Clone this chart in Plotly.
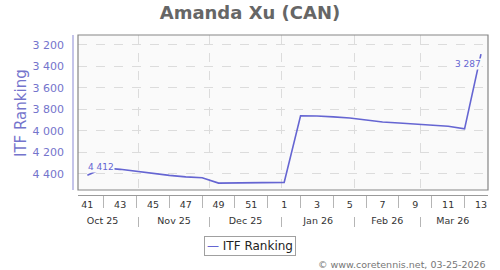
import plotly.graph_objects as go

# ---- data ----
dates = ["2025-10-10", "2025-10-17", "2025-10-24", "2025-10-31", "2025-11-07",
         "2025-11-14", "2025-11-21", "2025-11-28", "2025-12-05", "2025-12-12",
         "2025-12-19", "2025-12-26", "2026-01-02", "2026-01-09", "2026-01-16",
         "2026-01-23", "2026-01-30", "2026-02-06", "2026-02-13", "2026-02-20",
         "2026-02-27", "2026-03-06", "2026-03-13", "2026-03-20", "2026-03-27"]
weeks = [41, 42, 43, 44, 45, 46, 47, 48, 49, 50, 51, 52,
         1, 2, 3, 4, 5, 6, 7, 8, 9, 10, 11, 12, 13]
ranking = [4412, 4345, 4358, 4378, 4392, 4414, 4428, 4436, 4486, 4483, 4481, 4480,
           4479, 3860, 3862, 3871, 3881, 3900, 3918, 3928, 3937, 3947, 3958, 3982, 3287]
y_ticks = [3200, 3400, 3600, 3800, 4000, 4200, 4400]
x_range = ["2025-10-06", "2026-03-30"]
y_range = [4550, 3110]

title = "Amanda Xu (CAN)"
series_name = "ITF Ranking"
credit = "© www.coretennis.net, 03-25-2026"

# ---- style ----
LINE = "#6565d2"
AXC = "#7474cc"
FONT = "DejaVu Sans"

def fmt(v):
    return f"{v:,}".replace(",", " ")

W, H = 500, 270
ml, mr, mt, mb = 73, 12, 35, 54
pw, ph = W - ml - mr, H - mt - mb

label_weeks = [d for d, w in zip(dates, weeks) if w % 2 == 1]
label_text = [str(w) for w in weeks if w % 2 == 1]
sep_weeks = [d for d, w in zip(dates, weeks) if w % 2 == 0]

fig = go.Figure()
fig.add_trace(go.Scatter(x=dates, y=ranking, mode="lines", name=series_name,
                         line=dict(color=LINE, width=1.6), xaxis="x", yaxis="y",
                         showlegend=False))
fig.add_trace(go.Scatter(x=dates, y=ranking, mode="lines", showlegend=False,
                         hoverinfo="skip", opacity=0, line=dict(width=0.1),
                         xaxis="x2", yaxis="y"))

fig.update_layout(
    width=W, height=H,
    margin=dict(l=ml, r=mr, t=mt, b=mb, pad=0),
    paper_bgcolor="white", plot_bgcolor="#fafafa",
    font=dict(family=FONT, size=10, color="#333"),
    title=dict(text=f"<b>{title}</b>", x=0.5, xanchor="center", y=1 - 13 / H,
               yanchor="middle", font=dict(family=FONT, size=18, color="#666")),
    xaxis=dict(type="date", range=x_range, domain=[5 / pw, 1], anchor="free",
               position=(216 - 195) / ph, showline=True, linecolor="#9a9a9a",
               linewidth=1, showgrid=False, zeroline=False,
               tickmode="array", tickvals=label_weeks, ticktext=label_text,
               ticks="", ticklabelstandoff=1,
               tickfont=dict(size=9.5, color="#333"),
               minor=dict(tickmode="array", tickvals=sep_weeks, ticks="outside",
                          ticklen=12, tickcolor="#b5b5b5", tickwidth=1, showgrid=False)),
    xaxis2=dict(type="date", range=x_range, domain=[5 / pw, 1], overlaying="x",
                anchor="free", position=0, showline=False, zeroline=False,
                dtick="M1", tick0="2025-10-01", ticklabelmode="period",
                tickformat="%b %y", ticks="outside", ticklen=10, tickcolor="#b5b5b5",
                ticklabelstandoff=-14, tickfont=dict(size=9.5, color="#333"),
                showgrid=True, gridcolor="#dcdcdc", griddash="dash", gridwidth=1),
    yaxis=dict(range=y_range, domain=[(216 - 190) / ph, 1], anchor="free", position=0,
               showline=True, linecolor="#c4c4ea", linewidth=1.5, zeroline=False,
               tickmode="array", tickvals=y_ticks, ticktext=[fmt(v) for v in y_ticks],
               ticks="", ticklabelstandoff=6, tickfont=dict(size=11, color=AXC),
               showgrid=True, gridcolor="#dcdcdc", griddash="dash", gridwidth=1),
    shapes=[dict(type="rect", xref="x domain", yref="y domain", x0=0, x1=1, y0=0, y1=1,
                 line=dict(color="#858585", width=1.2), fillcolor="rgba(0,0,0,0)",
                 layer="above")],
    annotations=[
        dict(x=dates[0], y=ranking[0], xref="x", yref="y", text=fmt(ranking[0]),
             showarrow=False, xanchor="left", yanchor="bottom", xshift=0, yshift=2,
             bgcolor="#fafafa", borderpad=0, font=dict(size=9, color=LINE)),
        dict(x=dates[-1], y=ranking[-1], xref="x", yref="y", text=fmt(ranking[-1]),
             showarrow=False, xanchor="right", yanchor="top", xshift=1, yshift=-4,
             bgcolor="#fafafa", borderpad=0, font=dict(size=9, color=LINE)),
        # y-axis title
        dict(x=(21 - ml) / pw, y=(216 - 113) / ph, xref="paper", yref="paper",
             text=series_name, textangle=-90, showarrow=False,
             xanchor="center", yanchor="middle", font=dict(size=15, color=AXC)),
        # legend box
        dict(x=(250 - ml) / pw, y=(216 - 245.7) / ph, xref="paper", yref="paper",
             text=f"<span style='color:{LINE}'>—</span> {series_name}",
             showarrow=False, xanchor="center", yanchor="middle",
             bgcolor="white", bordercolor="#a0a0a0", borderwidth=1, borderpad=2,
             font=dict(size=12, color="#222")),
        dict(x=1, y=(216 - 264) / ph, xref="paper", yref="paper", text=credit,
             showarrow=False, xanchor="right", yanchor="middle",
             font=dict(size=9.5, color="#777")),
    ],
)

fig.write_html("out.html")
